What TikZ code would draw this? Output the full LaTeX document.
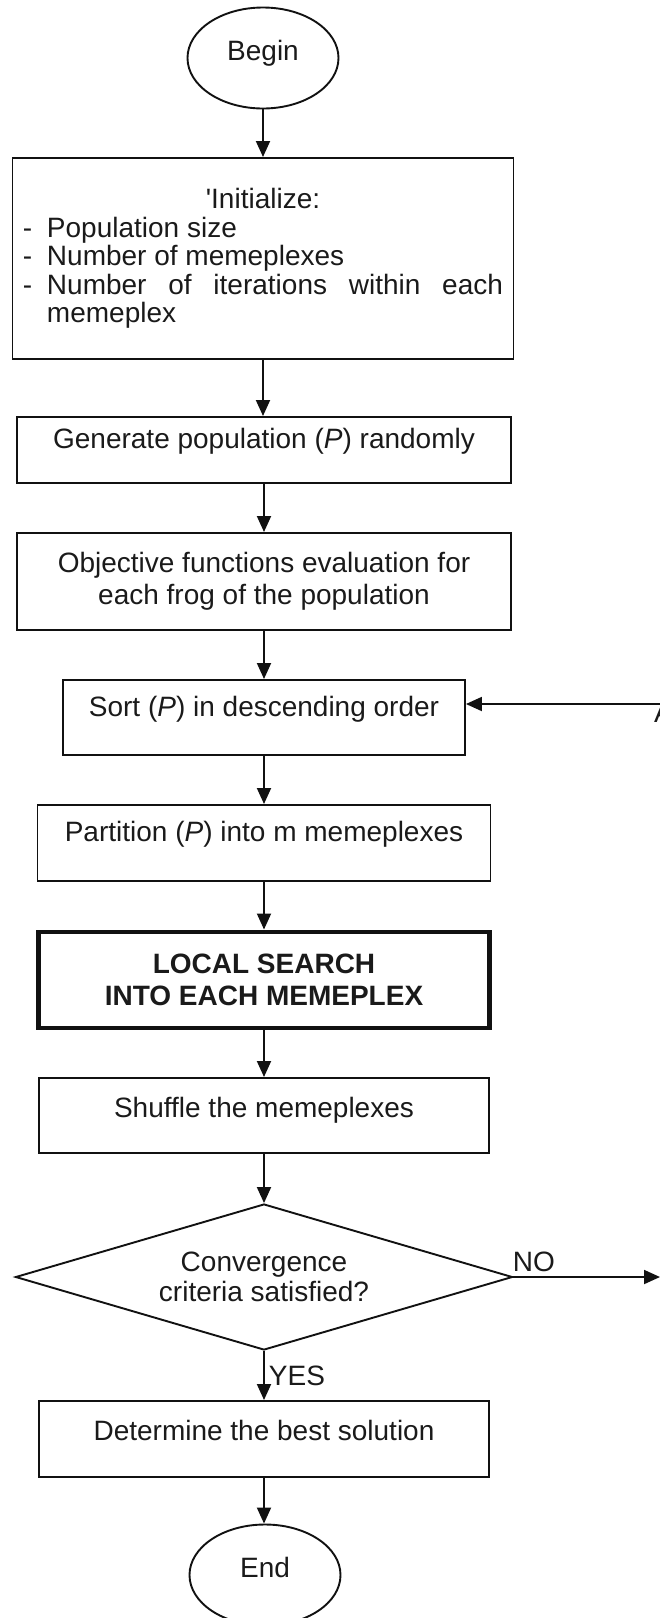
\documentclass[tikz,border=0pt]{standalone}
\usepackage{fontspec}
\setmainfont{Liberation Sans}
\usetikzlibrary{positioning, arrows.meta, shapes.geometric, calc}
\definecolor{cLine}{HTML}{111111}
\definecolor{cText}{HTML}{1A1A1A}

\tikzset{
  flowArrow/.style={-{Triangle[length=16pt, width=14pt]}, line width=1.9pt, draw=cLine},
  termNode/.style={ellipse, draw=cLine, line width=1.9pt, minimum width=151pt,
                   minimum height=101pt, inner sep=0pt, text height=22pt, text depth=18pt,
                   font=\fontsize{28pt}{32pt}\selectfont, text=cText},
  stepBox/.style={rectangle, draw=cLine, line width=1.9pt, inner sep=0pt, anchor=north,
                  font=\fontsize{28pt}{32pt}\selectfont, text=cText},
  lbl/.style={font=\fontsize{28pt}{32pt}\selectfont, text=cText, inner sep=4pt},
}

\begin{document}
\begin{tikzpicture}[x=1pt, y=-1pt]
  \useasboundingbox (0,0) rectangle (660,1618);
  \clip (0,0) rectangle (660,1618);
  % start
  \node[termNode] (begin) at (263,58) {Begin};
  % setup
  \node[stepBox, minimum width=501pt, minimum height=201pt, text width=480pt, align=justify,
        font=\fontsize{28pt}{28.5pt}\selectfont] (init) at (263,157) {%
    \tolerance=10000
    {\centering\textquotesingle Initialize:\par}
    \noindent\hangindent=24pt\hangafter=1\makebox[24pt][l]{-}Population size\par
    \noindent\hangindent=24pt\hangafter=1\makebox[24pt][l]{-}Number of memeplexes\par
    \noindent\hangindent=24pt\hangafter=1\makebox[24pt][l]{-}Number of iterations within each memeplex\par};
  \node[stepBox, minimum width=494pt, text height=32pt, text depth=34pt]
        (gen) at (264,416) {Generate population (\textit{P}) randomly};
  \node[stepBox, minimum width=494pt, minimum height=97pt, align=center]
        (obj) at (264,532) {Objective functions evaluation for\\each frog of the population};
  % main loop
  \node[stepBox, minimum width=402pt, text height=37pt, text depth=38pt]
        (sort) at (264,679) {Sort (\textit{P}) in descending order};
  \node[stepBox, minimum width=453pt, text height=37pt, text depth=39pt]
        (part) at (264,804) {Partition (\textit{P}) into m memeplexes};
  \node[stepBox, line width=4.5pt, minimum width=451pt, minimum height=96pt, align=center,
        font=\fontsize{28pt}{32pt}\selectfont\bfseries]
        (local) at (264,929.5) {LOCAL SEARCH\\INTO EACH MEMEPLEX};
  \node[stepBox, minimum width=450pt, text height=40pt, text depth=35pt]
        (shuf) at (264,1077) {Shuffle the memeplexes};
  \node[diamond, draw=cLine, line width=1.9pt, aspect=3.4, minimum width=497pt,
        minimum height=146pt, inner sep=0pt, align=center,
        font=\fontsize{28pt}{30pt}\selectfont, text=cText]
        (conv) at (264,1277) {Convergence\\criteria satisfied?};
  % finish
  \node[stepBox, minimum width=450pt, text height=40pt, text depth=36pt]
        (best) at (264,1400) {Determine the best solution};
  \node[termNode] (end) at (265,1575) {End};
  % off-page connector A
  \coordinate (fromA) at (660,704);
  \coordinate (toA) at (660,1277);
  \node[lbl, anchor=base west, inner sep=0pt] (aLbl) at (654,722) {A};

  \draw[flowArrow] (begin.south) -- (begin.south |- init.north);
  \draw[flowArrow] (init.south) -- (init.south |- gen.north);
  \draw[flowArrow] (gen.south) -- (gen.south |- obj.north);
  \draw[flowArrow] (obj.south) -- (obj.south |- sort.north);
  \draw[flowArrow] (sort.south) -- (sort.south |- part.north);
  \draw[flowArrow] (part.south) -- (part.south |- local.north);
  \draw[flowArrow] (local.south) -- (local.south |- shuf.north);
  \draw[flowArrow] (shuf.south) -- (shuf.south |- conv.north);
  \draw[flowArrow] (conv.south) -- node[lbl, right] (yesLbl) {YES} (conv.south |- best.north);
  \draw[flowArrow] (best.south) -- (best.south |- end.north);
  \draw[flowArrow] (conv.east) -- node[lbl, above, pos=0.14] (noLbl) {NO} (toA);
  \draw[flowArrow] (fromA) -- (fromA -| sort.east);
\end{tikzpicture}
\end{document}
